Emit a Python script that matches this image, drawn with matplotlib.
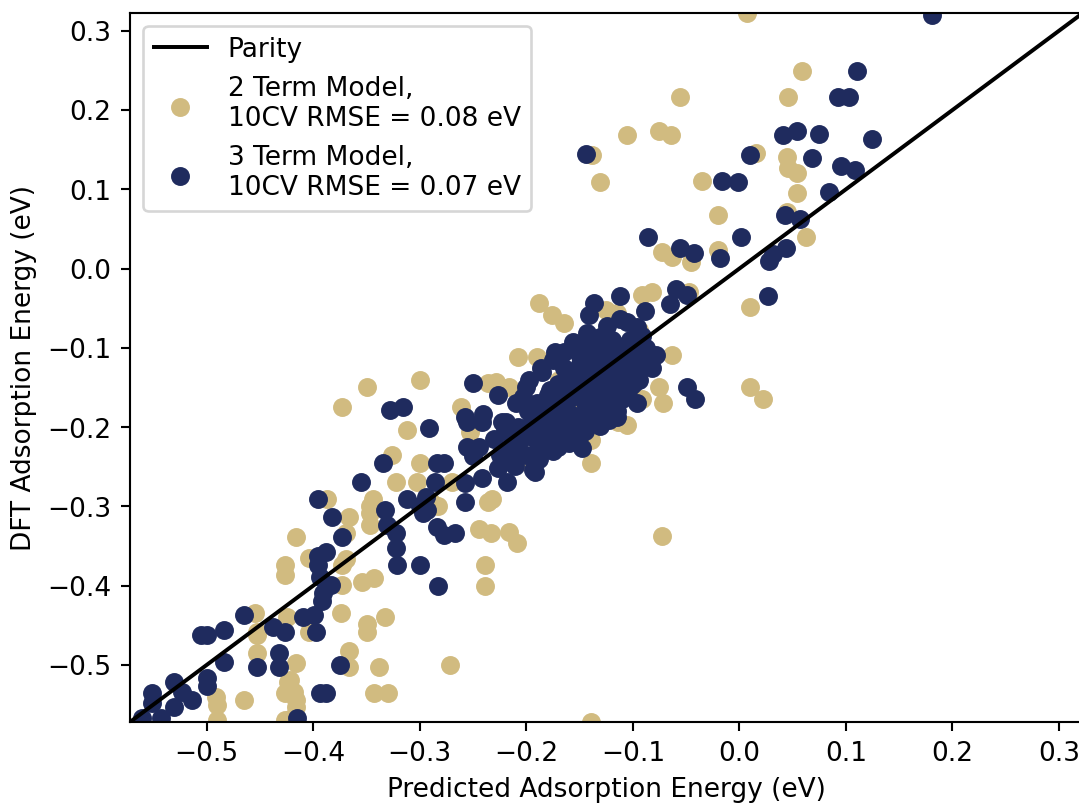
import matplotlib
matplotlib.use("Agg")
import matplotlib.pyplot as plt

# ---- data (eV) ----
two_term_pred = [
    0.007, 0.059, -0.056, 0.046, -0.105, -0.075, -0.064, -0.138, -0.131, -0.035,
    0.016, 0.045, 0.046, 0.054, 0.054, -0.020, 0.063, -0.073, -0.063, -0.045,
    -0.020, 0.045, 0.010, 0.010, 0.022, -0.073, -0.139,
    -0.188, -0.176, -0.165, -0.208, -0.190, -0.091, -0.082, -0.047, -0.063, -0.075,
    -0.072, -0.091, -0.105, -0.114, -0.139, -0.139, -0.232, -0.228, -0.216, -0.125,
    -0.115,
    -0.350, -0.300, -0.373, -0.312, -0.326, -0.261, -0.253, -0.300, -0.322, -0.303,
    -0.270, -0.387, -0.366, -0.344, -0.347, -0.289, -0.283, -0.236, -0.236,
    -0.244, -0.233, -0.216, -0.209, -0.206, -0.239, -0.239,
    -0.416, -0.427, -0.427, -0.404, -0.369, -0.373, -0.373, -0.354, -0.343,
    -0.347, -0.347, -0.369, -0.374, -0.350, -0.350, -0.333, -0.366, -0.366,
    -0.338, -0.272, -0.343, -0.330, -0.453, -0.453, -0.425, -0.416, -0.424,
    -0.418, -0.416, -0.416, -0.427, -0.427, -0.420, -0.491, -0.490, -0.490,
    -0.465, -0.455, -0.453, -0.422, -0.404,
    -0.169, -0.141, -0.188, -0.122, -0.206, -0.155, -0.094,
]
two_term_dft = [
    0.322, 0.249, 0.216, 0.217, 0.168, 0.174, 0.169, 0.143, 0.109, 0.110,
    0.146, 0.141, 0.127, 0.121, 0.096, 0.068, 0.040, 0.021, 0.015, 0.008,
    0.024, 0.071, -0.049, -0.149, -0.165, -0.337, -0.572,
    -0.043, -0.058, -0.068, -0.112, -0.111, -0.033, -0.030, -0.029, -0.109, -0.149,
    -0.169, -0.165, -0.197, -0.194, -0.216, -0.245, -0.291, -0.143, -0.149, -0.052,
    -0.056,
    -0.150, -0.141, -0.175, -0.204, -0.235, -0.175, -0.206, -0.245, -0.269, -0.269,
    -0.269, -0.291, -0.313, -0.291, -0.308, -0.294, -0.300, -0.294, -0.144,
    -0.329, -0.333, -0.332, -0.346, -0.244, -0.374, -0.401,
    -0.339, -0.374, -0.386, -0.365, -0.367, -0.374, -0.399, -0.396, -0.390,
    -0.323, -0.300, -0.333, -0.434, -0.449, -0.459, -0.440, -0.483, -0.503,
    -0.503, -0.500, -0.535, -0.535, -0.485, -0.462, -0.440, -0.497, -0.522,
    -0.534, -0.544, -0.553, -0.535, -0.569, -0.567, -0.540, -0.550, -0.569,
    -0.544, -0.434, -0.458, -0.519, -0.458,
    -0.140, -0.165, -0.191, -0.102, -0.216, -0.178, -0.077,
]

three_term_pred = [
    0.181, 0.110, 0.093, 0.103, 0.075, 0.054, 0.041, 0.068, 0.095, 0.109,
    0.125, 0.084, 0.043, 0.057, 0.002, 0.028, 0.032, 0.044, -0.086, -0.056,
    -0.043, -0.018, 0.010, -0.016, -0.001, -0.144, 0.027,
    -0.136, -0.112, -0.059, -0.049, -0.065, -0.089, -0.105, -0.141, -0.124, -0.173,
    -0.156, -0.049, -0.042, -0.078, -0.082, -0.103, -0.096, -0.227, -0.148, -0.194,
    -0.218, -0.122, -0.138, -0.112, -0.096, -0.136,
    -0.241, -0.222, -0.219, -0.190, -0.172, -0.153, -0.131, -0.115, -0.186, -0.203,
    -0.197, -0.178, -0.159, -0.150, -0.134, -0.122, -0.109, -0.128, -0.143, -0.162,
    -0.181, -0.203, -0.209, -0.169, -0.150, -0.119, -0.103, -0.091, -0.122, -0.141,
    -0.159, -0.175, -0.190, -0.197, -0.166, -0.125, -0.115, -0.096, -0.106, -0.131,
    -0.143, -0.192, -0.227, -0.223,
    -0.169, -0.155, -0.183, -0.141, -0.112, -0.094, -0.211, -0.131, -0.108,
    -0.291, -0.256, -0.244, -0.250, -0.284, -0.277, -0.286, -0.258, -0.242, -0.258,
    -0.294, -0.297, -0.284, -0.277, -0.267, -0.256, -0.242, -0.250,
    -0.328, -0.316, -0.258, -0.335, -0.355, -0.396, -0.382, -0.333, -0.312, -0.300,
    -0.293, -0.331,
    -0.373, -0.388, -0.396, -0.396, -0.394, -0.383, -0.391, -0.322, -0.322, -0.321,
    -0.300, -0.283, -0.465, -0.484, -0.505, -0.500, -0.438, -0.427, -0.410, -0.399,
    -0.397, -0.392, -0.432, -0.432, -0.453, -0.484, -0.500, -0.500, -0.531, -0.523,
    -0.514, -0.531, -0.551, -0.551, -0.561, -0.375, -0.394, -0.388, -0.415, -0.543,
    # dense central cluster
    -0.230, -0.225, -0.220, -0.215, -0.212, -0.208, -0.205, -0.200, -0.198, -0.195,
    -0.192, -0.188, -0.185, -0.182, -0.180, -0.177, -0.174, -0.171, -0.168, -0.165,
    -0.162, -0.160, -0.157, -0.154, -0.151, -0.148, -0.145, -0.142, -0.139, -0.136,
    -0.133, -0.130, -0.127, -0.124, -0.121, -0.118, -0.115, -0.112, -0.109, -0.106,
    -0.103, -0.100, -0.097, -0.094, -0.091, -0.088, -0.150, -0.160, -0.170, -0.180,
    -0.190, -0.140, -0.130, -0.120, -0.175, -0.160, -0.145, -0.135, -0.120, -0.110,
    -0.175, -0.165, -0.155, -0.145, -0.185, -0.200, -0.210, -0.165, -0.150,
    -0.130, -0.115, -0.105, -0.100, -0.095, -0.150, -0.170,
]
three_term_dft = [
    0.320, 0.249, 0.217, 0.217, 0.170, 0.174, 0.168, 0.140, 0.130, 0.125,
    0.163, 0.097, 0.068, 0.062, 0.040, 0.009, 0.018, 0.026, 0.040, 0.026,
    0.020, 0.014, 0.143, 0.110, 0.109, 0.145, -0.035,
    -0.043, -0.035, -0.026, -0.033, -0.045, -0.054, -0.067, -0.058, -0.073, -0.105,
    -0.092, -0.149, -0.165, -0.109, -0.125, -0.149, -0.169, -0.159, -0.226, -0.254,
    -0.269, -0.191, -0.194, -0.064, -0.074, -0.098,
    -0.184, -0.244, -0.194, -0.232, -0.216, -0.203, -0.199, -0.187, -0.125, -0.162,
    -0.140, -0.153, -0.140, -0.124, -0.131, -0.119, -0.106, -0.153, -0.174, -0.182,
    -0.194, -0.207, -0.225, -0.111, -0.106, -0.093, -0.090, -0.115, -0.140, -0.156,
    -0.162, -0.174, -0.187, -0.199, -0.199, -0.174, -0.156, -0.131, -0.131, -0.086,
    -0.081, -0.256, -0.251, -0.194,
    -0.172, -0.159, -0.210, -0.115, -0.140, -0.096, -0.249, -0.178, -0.159,
    -0.201, -0.225, -0.225, -0.237, -0.245, -0.245, -0.269, -0.270, -0.264, -0.294,
    -0.288, -0.308, -0.326, -0.336, -0.333, -0.193, -0.193, -0.144,
    -0.178, -0.175, -0.187, -0.245, -0.269, -0.291, -0.313, -0.304, -0.291, -0.300,
    -0.304, -0.323,
    -0.339, -0.357, -0.363, -0.374, -0.389, -0.399, -0.409, -0.333, -0.352, -0.374,
    -0.374, -0.401, -0.437, -0.456, -0.462, -0.462, -0.452, -0.459, -0.440, -0.437,
    -0.458, -0.420, -0.485, -0.503, -0.503, -0.496, -0.516, -0.527, -0.521, -0.534,
    -0.544, -0.553, -0.535, -0.548, -0.567, -0.500, -0.535, -0.535, -0.567, -0.567,
    # dense central cluster
    -0.215, -0.235, -0.205, -0.225, -0.245, -0.200, -0.215, -0.235, -0.180, -0.195,
    -0.215, -0.240, -0.170, -0.185, -0.200, -0.220, -0.160, -0.180, -0.195, -0.210,
    -0.150, -0.165, -0.185, -0.200, -0.140, -0.155, -0.170, -0.190, -0.130, -0.145,
    -0.160, -0.180, -0.115, -0.130, -0.150, -0.165, -0.105, -0.120, -0.135, -0.150,
    -0.095, -0.110, -0.125, -0.140, -0.085, -0.100, -0.120, -0.130, -0.145, -0.160,
    -0.170, -0.110, -0.100, -0.090, -0.230, -0.220, -0.205, -0.195, -0.180, -0.165,
    -0.115, -0.105, -0.100, -0.095, -0.130, -0.150, -0.170, -0.125, -0.110,
    -0.190, -0.180, -0.160, -0.145, -0.130, -0.210, -0.225,
]

parity_range = [-0.572, 0.323]
ticks = [-0.5, -0.4, -0.3, -0.2, -0.1, 0.0, 0.1, 0.2, 0.3]
labels = ["Parity", "2 Term Model,\n10CV RMSE = 0.08 eV", "3 Term Model,\n10CV RMSE = 0.07 eV"]

GOLD = "#D1BB80"
NAVY = "#1F2B5E"

DPI = 190
fig = plt.figure(figsize=(1079.4 / DPI, 804.4 / DPI), dpi=DPI)
ax = fig.add_axes([130 / 1079, (804 - 722) / 804, (1083 - 130) / 1079, (722 - 13) / 804])

ax.plot(parity_range, parity_range, color="black", lw=1.5, label=labels[0])
ax.scatter(two_term_pred, two_term_dft, color=GOLD, s=38, label=labels[1])
ax.scatter(three_term_pred, three_term_dft, color=NAVY, s=38, label=labels[2])

ax.set_xlim(parity_range)
ax.set_ylim(parity_range)
ax.set_xticks(ticks)
ax.set_yticks(ticks)
ax.set_xlabel("Predicted Adsorption Energy (eV)")
ax.set_ylabel("DFT Adsorption Energy (eV)")
ax.legend(loc="upper left")

fig.savefig("out.png", dpi=DPI)
